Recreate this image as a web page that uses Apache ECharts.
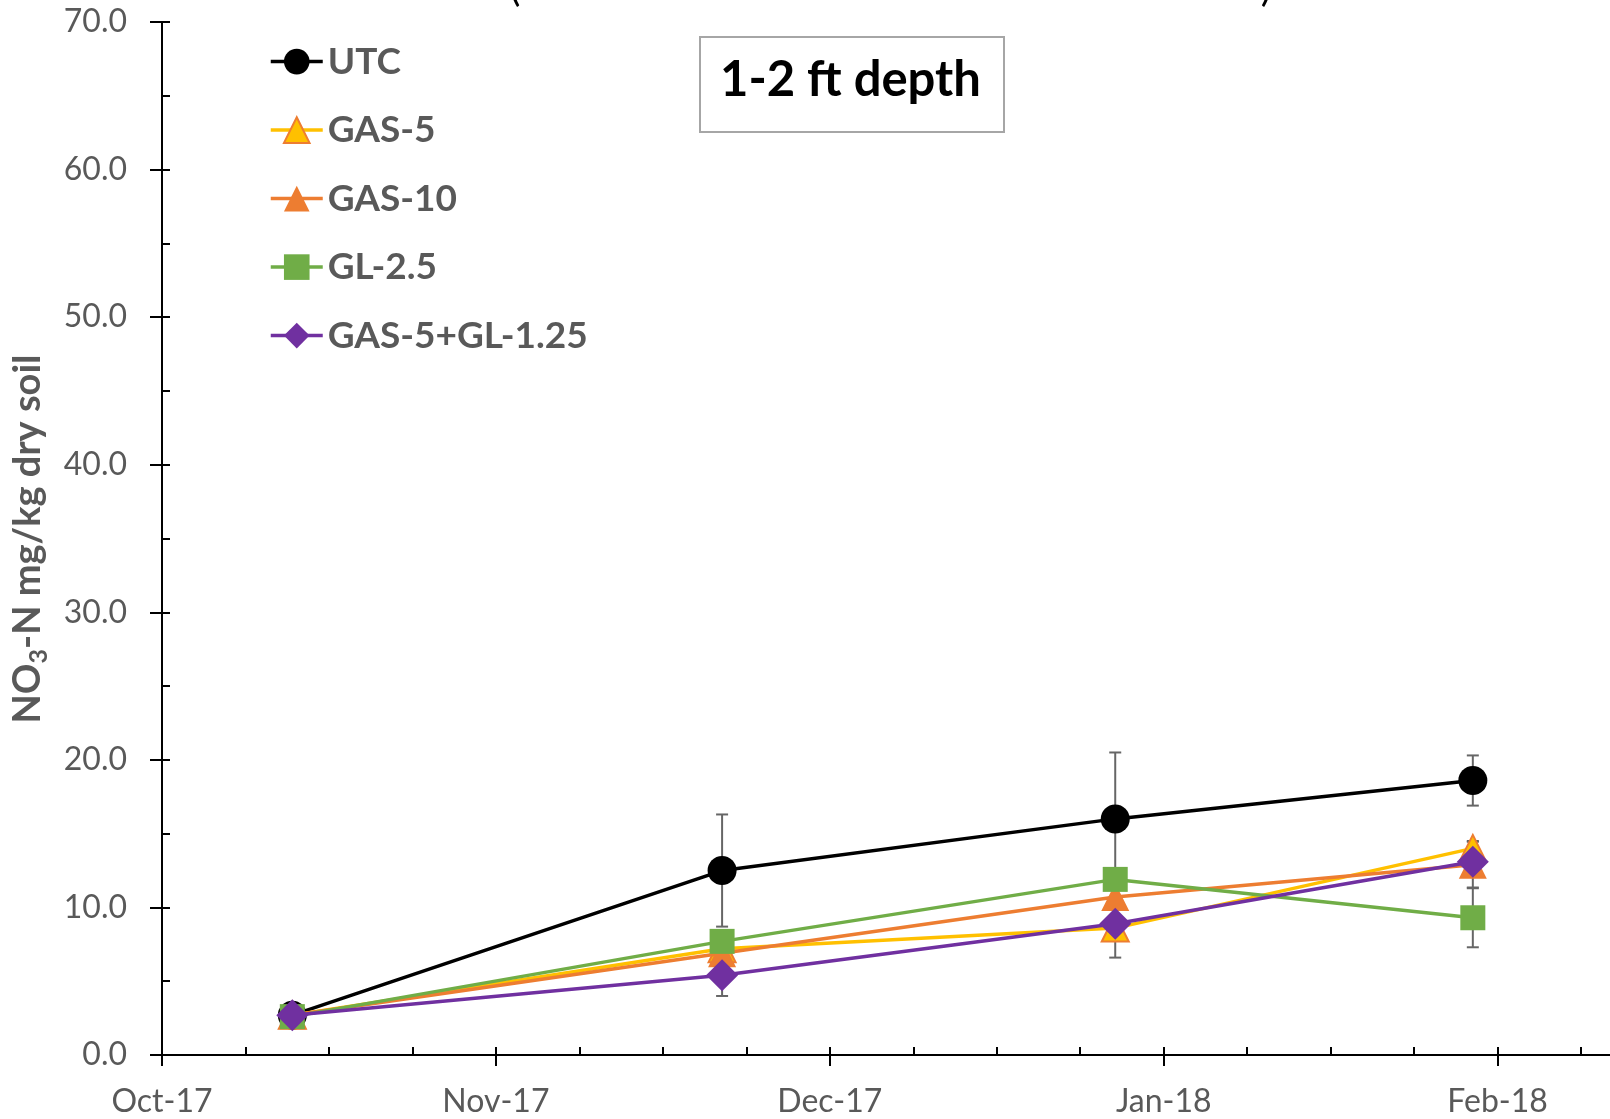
<!DOCTYPE html>
<html><head><meta charset="utf-8">
<script src="https://cdn.jsdelivr.net/npm/echarts@6/dist/echarts.min.js"></script>
<style>html,body{margin:0;padding:0;background:#fff;} #c{width:1610px;height:1119px;}</style>
</head><body><div id="c"></div>
<script>
// x positions: days after 1 Oct 2017 (axis uses 31-day major units)
const monthLabels = ['Oct-17', 'Nov-17', 'Dec-17', 'Jan-18', 'Feb-18', 'Mar-18'];
const sampleDays = [12.1, 52.0, 88.5, 121.7];
const seriesNames = ['UTC', 'GAS-5', 'GAS-10', 'GL-2.5', 'GAS-5+GL-1.25'];
const utc   = [2.7, 12.5, 16.0, 18.6];
const gas5  = [2.7, 7.2, 8.6, 14.0];
const gas10 = [2.7, 6.9, 10.7, 12.9];
const gl25  = [2.6, 7.7, 11.9, 9.3];
const gasgl = [2.7, 5.4, 8.9, 13.1];
const utcErr   = [0.3, 3.8, 4.5, 1.7];
const gas5Err  = [0.3, 0.5, 0.5, 0.5];
const gas10Err = [0.3, 0.5, 0.5, 1.55];
const gl25Err  = [0.3, 0.5, 0.5, 2.0];
const gasglErr = [0.3, 1.4, 2.3, 0.5];
const depthLabel = '1-2 ft depth';

const values = [utc, gas5, gas10, gl25, gasgl];
const errs = [utcErr, gas5Err, gas10Err, gl25Err, gasglErr];
const styles = [
  {symbol: 'circle', size: 29, color: '#000000', line: '#000000'},
  {symbol: 'triangle', size: 27, color: '#FFC000', line: '#FFC000', border: '#ED7D31'},
  {symbol: 'triangle', size: 28, color: '#ED7D31', line: '#ED7D31'},
  {symbol: 'rect', size: 25, color: '#70AD47', line: '#70AD47'},
  {symbol: 'diamond', size: 32, color: '#7030A0', line: '#7030A0'}
];

const FONT = 'Lato';
const chart = echarts.init(document.getElementById('c'), null, {renderer: 'canvas'});

const errData = [];
values.forEach((arr, s) => arr.forEach((v, i) => {
  errData.push([sampleDays[i], v - errs[s][i], v + errs[s][i]]);
}));

const series = [{
  type: 'custom', name: 'err', z: 1, silent: true,
  xAxisIndex: 0, yAxisIndex: 0,
  encode: {x: 0, y: [1, 2]},
  data: errData,
  renderItem(params, api) {
    const x = api.value(0);
    const p1 = api.coord([x, api.value(2)]);
    const p2 = api.coord([x, api.value(1)]);
    const hw = 6;
    const st = {stroke: '#666666', lineWidth: 2};
    return {type: 'group', children: [
      {type: 'line', shape: {x1: p1[0], y1: p1[1], x2: p2[0], y2: p2[1]}, style: st},
      {type: 'line', shape: {x1: p1[0] - hw, y1: p1[1], x2: p1[0] + hw, y2: p1[1]}, style: st},
      {type: 'line', shape: {x1: p2[0] - hw, y1: p2[1], x2: p2[0] + hw, y2: p2[1]}, style: st}
    ]};
  }
}];
values.forEach((arr, s) => {
  const st = styles[s];
  series.push({
    type: 'line', name: seriesNames[s], z: 2 + s,
    xAxisIndex: 0, yAxisIndex: 0,
    data: arr.map((v, i) => [sampleDays[i], v]),
    symbol: st.symbol, symbolSize: st.size, showAllSymbol: true,
    lineStyle: {color: st.line, width: 3.5},
    itemStyle: {color: st.color, borderColor: st.border || st.color, borderWidth: st.border ? 2 : 0},
    emphasis: {disabled: true}
  });
});

const tickStyle = {color: '#000', width: 2};
chart.setOption({
  animation: false,
  backgroundColor: '#ffffff',
  grid: {left: 162, top: 22, width: 1669.5, height: 1033, containLabel: false, outerBoundsMode: 'none'},
  legend: {
    data: seriesNames, orient: 'vertical', left: 269, top: 41.6, padding: 0,
    itemWidth: 52, itemHeight: 32, itemGap: 28.5, selectedMode: false,
    lineStyle: {width: 3.5},
    textStyle: {fontFamily: FONT, fontWeight: 'bold', fontSize: 37, color: '#595959', lineHeight: 40}
  },
  xAxis: [{
    type: 'value', min: 0, max: 155, interval: 31, position: 'bottom',
    axisLine: {show: true, lineStyle: tickStyle},
    axisTick: {show: true, inside: true, length: 8, lineStyle: tickStyle},
    minorTick: {show: true, splitNumber: 4, length: 8, lineStyle: tickStyle},
    splitLine: {show: false},
    axisLabel: {formatter: v => monthLabels[Math.round(v / 31)], fontFamily: FONT, fontSize: 32, color: '#595959', margin: 31}
  }, {
    type: 'value', min: 0, max: 155, interval: 31, position: 'bottom',
    axisLine: {show: false},
    axisTick: {show: true, inside: false, length: 11, lineStyle: tickStyle},
    axisLabel: {show: false}, splitLine: {show: false}
  }],
  yAxis: [{
    type: 'value', min: 0, max: 70, interval: 10, position: 'left',
    axisLine: {show: true, lineStyle: tickStyle},
    axisTick: {show: true, inside: true, length: 8, lineStyle: tickStyle},
    minorTick: {show: true, splitNumber: 2, length: 8, lineStyle: tickStyle},
    splitLine: {show: false},
    axisLabel: {formatter: v => v.toFixed(1), fontFamily: FONT, fontSize: 32, color: '#595959', margin: 35}
  }, {
    type: 'value', min: 0, max: 70, interval: 10, position: 'left',
    axisLine: {show: false},
    axisTick: {show: true, inside: false, length: 12, lineStyle: tickStyle},
    axisLabel: {show: false}, splitLine: {show: false}
  }],
  graphic: [
    {type: 'rect', left: 699, top: 36, z: 10,
     shape: {width: 304, height: 95}, style: {fill: '#ffffff', stroke: '#A6A6A6', lineWidth: 2}},
    {type: 'text', x: 850.5, y: 80, z: 11,
     style: {text: depthLabel, fontFamily: FONT, fontWeight: 'bold', fontSize: 49, fill: '#000000', align: 'center', verticalAlign: 'middle'}},
    {type: 'text', x: 28, y: 539, rotation: Math.PI / 2, z: 11,
     style: {
       text: '{a|NO}{s|3}{a|-N mg/kg dry soil}', align: 'center', verticalAlign: 'middle',
       rich: {
         a: {fontFamily: FONT, fontWeight: 'bold', fontSize: 38, fill: '#595959', lineHeight: 46, verticalAlign: 'middle'},
         s: {fontFamily: FONT, fontWeight: 'bold', fontSize: 25, fill: '#595959', lineHeight: 20, verticalAlign: 'bottom'}
       }
     }},
    {type: 'text', x: 515, y: 8, z: 11,
     style: {text: '(', fontFamily: FONT, fontSize: 40, fill: '#000000', align: 'center', verticalAlign: 'bottom'}},
    {type: 'text', x: 1266, y: 8, z: 11,
     style: {text: ')', fontFamily: FONT, fontSize: 40, fill: '#000000', align: 'center', verticalAlign: 'bottom'}}
  ],
  series: series
});
</script></body></html>
